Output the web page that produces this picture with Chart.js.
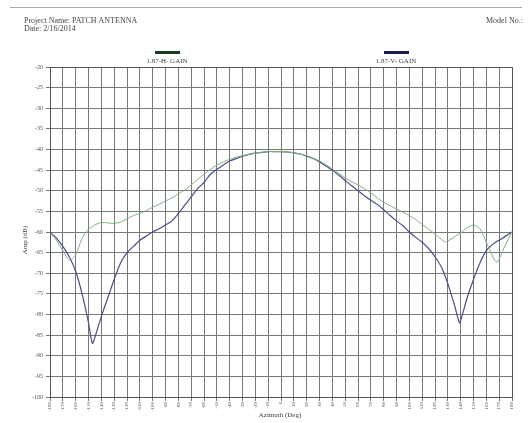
<!DOCTYPE html>
<html lang="en">
<head>
    <meta charset="UTF-8">
    <title>PATCH ANTENNA</title>
    <script src="https://cdn.jsdelivr.net/npm/chart.js"></script>
    <style>
        body {
            margin: 0;
            padding: 0;
            background-color: #fff;
        }
        .chart-container {
            position: relative;
            width: 528px;
            height: 423px;
        }
    </style>
</head>
<body>
    <div class="chart-container">
        <canvas id="patternChart"></canvas>
    </div>

    <script>
        // Azimuth angles (deg)
        const angles = [-180, -175, -170, -165, -160, -155, -150, -147, -145, -140, -135, -130, -125, -120, -115, -110, -105, -100,
            -95, -90, -85, -80, -75, -70, -65, -60, -55, -50, -45, -40, -35, -30, -25, -20, -15, -10, -5, 0,
            5, 10, 15, 20, 25, 30, 35, 40, 45, 50, 55, 60, 65, 70, 75, 80, 85, 90, 95, 100, 105, 110, 115, 120,
            125, 128, 130, 135, 139, 140, 145, 150, 155, 160, 165, 168, 170, 175, 180];

        // 1.87-H- GAIN (green)
        const hGain = [-60, -62, -64.5, -66.8, -65.5, -61.5, -59.3, -58.7, -58.3, -57.7, -57.8, -57.9, -57.6, -56.8, -56, -55.5, -54.8, -54,
            -53.3, -52.5, -51.7, -50.8, -49.8, -48.6, -47.3, -46, -44.8, -43.8, -43, -42.4, -41.9, -41.5, -41.2, -40.9, -40.7, -40.5, -40.5, -40.5,
            -40.6, -40.8, -41.1, -41.5, -42.1, -42.8, -43.7, -44.7, -45.8, -46.9, -47.8, -48.6, -49.5, -50.5, -51.7, -52.8, -53.6, -54.4, -55.2, -56, -57, -58.2, -59.3, -60.5,
            -61.8, -62.4, -62.2, -61.2, -60.4, -60.2, -59, -58.3, -59.2, -62.5, -66, -67.3, -66.5, -63, -60];

        // 1.87-V- GAIN (blue)
        const vGain = [-60, -61.5, -63.5, -66, -69.5, -75, -82, -87, -85.5, -80.5, -76, -71.5, -67.5, -65, -63.5, -62, -61, -60,
            -59.2, -58.3, -57.3, -55.5, -53.5, -51.5, -49.5, -48, -46, -44.8, -43.8, -42.8, -42.2, -41.6, -41.2, -40.9, -40.7, -40.5, -40.5, -40.5,
            -40.6, -40.8, -41.1, -41.6, -42.2, -43, -44, -45, -46.2, -47.5, -48.8, -50, -51.2, -52.3, -53.3, -54.6, -56, -57.3, -58.5, -60, -61.3, -62.5, -64, -66,
            -68.5, -70.8, -72.5, -77.5, -82, -81.5, -76, -71.5, -67.5, -64.5, -63, -62.3, -62, -61, -60];

        const yTicks = [-20, -25, -30, -35, -40, -45, -50, -55, -60, -65, -70, -75, -80, -85, -90, -95, -100];

        const serif = '"Liberation Serif", "DejaVu Serif", serif';

        // Header, legend and axis titles
        const decorPlugin = {
            id: 'decor',
            afterDraw(chart) {
                const ctx = chart.ctx;
                ctx.save();
                ctx.strokeStyle = '#aaa';
                ctx.lineWidth = 1;
                ctx.beginPath();
                ctx.moveTo(10, 7.5);
                ctx.lineTo(522, 7.5);
                ctx.stroke();

                ctx.fillStyle = '#444';
                ctx.font = '8px ' + serif;
                ctx.textAlign = 'left';
                ctx.textBaseline = 'middle';
                ctx.fillText('Project Name: PATCH ANTENNA', 24, 21);
                ctx.fillText('Date: 2/16/2014', 24, 29);
                ctx.fillText('Model No.:', 486, 21);

                // legend
                ctx.font = '7px ' + serif;
                const items = [
                    { x: 167, color: '#1f3a22', text: '1.87-H- GAIN' },
                    { x: 396, color: '#1c1c4a', text: '1.87-V- GAIN' }
                ];
                items.forEach(it => {
                    ctx.fillStyle = it.color;
                    ctx.fillRect(it.x - 12, 51, 25, 3);
                    ctx.fillStyle = '#444';
                    ctx.textAlign = 'center';
                    ctx.fillText(it.text, it.x, 61);
                });

                // axis titles
                ctx.fillText('Azimuth (Deg)', 280, 415);
                ctx.translate(25, 240);
                ctx.rotate(-Math.PI / 2);
                ctx.fillText('Amp (dB)', 0, 0);
                ctx.restore();
            }
        };

        const chartCtx = document.getElementById('patternChart').getContext('2d');
        new Chart(chartCtx, {
            type: 'line',
            data: {
                labels: angles,
                datasets: [{
                    label: '1.87-H- GAIN',
                    data: hGain,
                    borderColor: '#7fb07f',
                    borderWidth: 1,
                    pointRadius: 0,
                    tension: 0.3,
                    fill: false
                }, {
                    label: '1.87-V- GAIN',
                    data: vGain,
                    borderColor: '#4c4c8c',
                    borderWidth: 1.2,
                    pointRadius: 0,
                    tension: 0.3,
                    fill: false
                }]
            },
            options: {
                responsive: true,
                maintainAspectRatio: false,
                animation: false,
                layout: {
                    padding: { left: 0, right: 16, top: 67, bottom: 0 }
                },
                plugins: {
                    legend: { display: false },
                    title: { display: false },
                    tooltip: { enabled: false }
                },
                scales: {
                    x: {
                        type: 'linear',
                        min: -180,
                        max: 180,
                        border: { display: true, color: '#555' },
                        grid: {
                            color: '#777',
                            tickLength: 4
                        },
                        ticks: {
                            stepSize: 10,
                            autoSkip: false,
                            minRotation: 90,
                            maxRotation: 90,
                            padding: 1,
                            color: '#555',
                            font: { size: 5, family: serif }
                        },
                        afterFit(scale) { scale.height = 26; }
                    },
                    y: {
                        min: -100,
                        max: -20,
                        border: { display: true, color: '#555' },
                        grid: {
                            color: '#777',
                            tickLength: 4
                        },
                        afterBuildTicks(scale) {
                            scale.ticks = yTicks.map(v => ({ value: v }));
                        },
                        ticks: {
                            color: '#555',
                            padding: 3,
                            font: { size: 6, family: serif }
                        },
                        afterFit(scale) { scale.width = 50; }
                    }
                }
            },
            plugins: [decorPlugin, {
                id: 'frame',
                afterDatasetsDraw(chart) {
                    const a = chart.chartArea;
                    const c = chart.ctx;
                    c.save();
                    c.strokeStyle = '#555';
                    c.lineWidth = 1;
                    c.strokeRect(a.left + 0.5, a.top + 0.5, a.right - a.left, a.bottom - a.top);
                    c.restore();
                }
            }]
        });
    </script>
</body>
</html>
